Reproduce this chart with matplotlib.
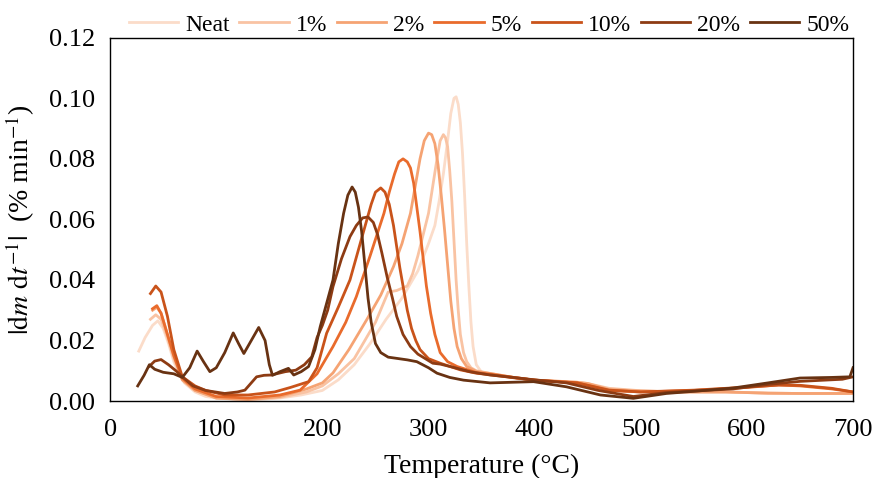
import matplotlib
matplotlib.use("Agg")
import matplotlib.pyplot as plt
from matplotlib.ticker import FormatStrFormatter

plt.rcParams['font.family'] = ['Liberation Serif', 'DejaVu Serif']
plt.rcParams['mathtext.fontset'] = 'stix'

# values (temperature in C, |dm/dt| in %/min)
labels = ['Neat', '1%', '2%', '5%', '10%', '20%', '50%']
colours = ['#fbdcc9', '#f9c3a3', '#f5a373', '#e96b2c', '#c9531a', '#8d3b13', '#683212']

t_neat = [27, 33, 40, 45, 50, 55, 60, 65, 70, 80, 90, 100, 120, 140, 160, 180, 200, 215,
          230, 245, 260, 275, 290, 300, 306, 310, 314, 318, 321, 324, 326, 328, 330, 332,
          334, 336, 338, 340, 342, 345, 350, 360, 380, 400, 420, 440, 450, 470, 500, 540,
          580, 620, 650, 700]
y_neat = [0.0165, 0.021, 0.025, 0.0265, 0.024, 0.019, 0.013, 0.009, 0.006, 0.003, 0.0015,
          0.001, 0.0005, 0.0005, 0.001, 0.002, 0.0035, 0.007, 0.012, 0.019, 0.027, 0.034,
          0.043, 0.052, 0.058, 0.066, 0.075, 0.086, 0.095, 0.100, 0.1005, 0.098, 0.092,
          0.082, 0.068, 0.052, 0.038, 0.026, 0.018, 0.012, 0.0095, 0.0088, 0.0078, 0.0069,
          0.0065, 0.006, 0.0055, 0.004, 0.0033, 0.003, 0.003, 0.0026, 0.0025, 0.0025]

t_1 = [38, 43, 48, 54, 60, 68, 80, 100, 130, 160, 185, 200, 215, 230, 250, 262, 270, 280,
       285, 290, 295, 300, 304, 308, 311, 314, 316, 318, 320, 322, 324, 326, 328, 330, 333,
       336, 340, 345, 360, 380, 400, 420, 440, 450, 470, 500, 540, 580, 620, 650, 700]
y_1 = [0.027, 0.0285, 0.027, 0.021, 0.014, 0.007, 0.0035, 0.001, 0.0005, 0.0012, 0.003,
       0.005, 0.009, 0.014, 0.026, 0.036, 0.0365, 0.038, 0.042, 0.048, 0.055, 0.062, 0.071,
       0.080, 0.086, 0.088, 0.087, 0.084, 0.076, 0.066, 0.053, 0.040, 0.030, 0.022, 0.016,
       0.013, 0.011, 0.010, 0.009, 0.0078, 0.0069, 0.0065, 0.0062, 0.0058, 0.0042, 0.0034,
       0.003, 0.003, 0.0026, 0.0025, 0.0025]

t_2 = [40, 44, 48, 54, 60, 68, 80, 100, 130, 160, 185, 200, 210, 225, 242, 255, 267, 275,
       283, 288, 292, 296, 300, 303, 306, 309, 312, 315, 318, 321, 324, 327, 331, 336, 345,
       360, 380, 400, 420, 440, 450, 470, 500, 540, 580, 620, 650, 700]
y_2 = [0.030, 0.031, 0.029, 0.022, 0.015, 0.007, 0.0035, 0.001, 0.0005, 0.0015, 0.004,
       0.006, 0.0093, 0.017, 0.027, 0.035, 0.0444, 0.052, 0.062, 0.072, 0.080, 0.086, 0.0885,
       0.088, 0.085, 0.078, 0.068, 0.057, 0.045, 0.033, 0.024, 0.018, 0.014, 0.0114, 0.0098,
       0.009, 0.0078, 0.0069, 0.0066, 0.0062, 0.0058, 0.0038, 0.0033, 0.003, 0.003, 0.0026,
       0.0025, 0.0025]

t_5 = [40, 44, 48, 54, 60, 68, 80, 100, 130, 160, 179, 195, 210, 222, 232, 245, 258, 263,
       268, 272, 276, 280, 283, 286, 289, 292, 295, 298, 302, 306, 311, 318, 327, 345, 360,
       380, 400, 440, 470, 500, 550, 600, 630, 650, 680, 700]
y_5 = [0.0305, 0.0315, 0.029, 0.022, 0.015, 0.0075, 0.004, 0.0015, 0.001, 0.002, 0.0036,
       0.009, 0.018, 0.026, 0.0345, 0.048, 0.062, 0.069, 0.075, 0.079, 0.080, 0.079, 0.077,
       0.072, 0.064, 0.056, 0.047, 0.038, 0.029, 0.022, 0.016, 0.013, 0.0114, 0.0094, 0.0088,
       0.0078, 0.0069, 0.006, 0.0035, 0.003, 0.0035, 0.0045, 0.0053, 0.005, 0.004, 0.003]

t_10 = [38, 43, 48, 54, 60, 68, 80, 90, 108, 130, 155, 170, 187, 195, 204, 215, 226, 234,
        242, 246, 250, 255, 259, 263, 267, 270, 273, 277, 280, 284, 288, 292, 300, 311, 330,
        345, 360, 380, 400, 440, 470, 500, 550, 600, 630, 650, 680, 700]
y_10 = [0.0355, 0.038, 0.036, 0.028, 0.017, 0.008, 0.005, 0.0035, 0.002, 0.002, 0.003,
        0.0045, 0.0064, 0.011, 0.0224, 0.031, 0.040, 0.050, 0.060, 0.065, 0.069, 0.0704,
        0.069, 0.065, 0.058, 0.051, 0.044, 0.036, 0.030, 0.024, 0.020, 0.017, 0.014, 0.0125,
        0.0103, 0.0092, 0.0086, 0.0077, 0.0069, 0.006, 0.0036, 0.003, 0.0036, 0.0046, 0.0053,
        0.0052, 0.0042, 0.003]

t_20 = [37, 42, 48, 55, 62, 68, 78, 90, 108, 120, 127, 133, 138, 145, 152, 165, 175, 183,
        190, 195, 200, 205, 210, 218, 226, 232, 238, 243, 248, 252, 256, 261, 266, 270, 276,
        283, 290, 304, 311, 325, 339, 358, 380, 400, 430, 460, 493, 524, 560, 587, 620, 650,
        690, 700]
y_20 = [0.0115, 0.0132, 0.0137, 0.012, 0.010, 0.008, 0.005, 0.0035, 0.0025, 0.003, 0.0036,
        0.006, 0.008, 0.0085, 0.0086, 0.0097, 0.0102, 0.012, 0.0146, 0.021, 0.025, 0.030,
        0.0378, 0.047, 0.0543, 0.058, 0.0605, 0.0608, 0.059, 0.055, 0.049, 0.041, 0.034,
        0.028, 0.022, 0.018, 0.0155, 0.0125, 0.0122, 0.011, 0.0097, 0.0086, 0.0078, 0.007,
        0.006, 0.0035, 0.0015, 0.0028, 0.0035, 0.004, 0.0055, 0.0065, 0.0072, 0.008]

t_50 = [26, 32, 37, 42, 50, 60, 68, 75, 82, 88, 94, 100, 108, 116, 121, 126, 133, 140, 146,
        150, 153, 160, 168, 173, 180, 187, 193, 198, 203, 210, 215, 220, 224, 228, 231, 234,
        237, 240, 243, 246, 250, 255, 262, 270, 280, 289, 300, 308, 320, 333, 358, 399, 430,
        462, 493, 524, 560, 587, 620, 650, 680, 697, 700]
y_50 = [0.005, 0.0085, 0.012, 0.0105, 0.0095, 0.009, 0.0078, 0.011, 0.0165, 0.013, 0.0097,
        0.011, 0.016, 0.0225, 0.019, 0.0157, 0.020, 0.0243, 0.020, 0.012, 0.0085, 0.0097,
        0.0108, 0.0086, 0.0097, 0.0114, 0.017, 0.0246, 0.031, 0.040, 0.052, 0.062, 0.068,
        0.0707, 0.069, 0.064, 0.056, 0.045, 0.034, 0.026, 0.019, 0.016, 0.0145, 0.0141,
        0.0136, 0.013, 0.011, 0.0092, 0.0078, 0.0069, 0.006, 0.0064, 0.0047, 0.002, 0.0009,
        0.0025, 0.0035, 0.0043, 0.006, 0.0076, 0.0078, 0.008, 0.011]

series_t = [t_neat, t_1, t_2, t_5, t_10, t_20, t_50]
series_y = [y_neat, y_1, y_2, y_5, y_10, y_20, y_50]

fig = plt.figure(figsize=(8.74, 4.78), dpi=100)
ax = fig.add_axes([0.126, 0.161, 0.850, 0.760])

for t, y, lab, c in zip(series_t, series_y, labels, colours):
    ax.plot(t, y, color=c, lw=2.0, label=lab)

ax.set_xlim(0, 700)
ax.set_ylim(0, 0.12)
ax.set_xticks(range(0, 701, 100))
ax.set_yticks([0, 0.02, 0.04, 0.06, 0.08, 0.10, 0.12])
ax.yaxis.set_major_formatter(FormatStrFormatter('%.2f'))
ax.tick_params(length=0, labelsize=19)
ax.tick_params(axis='x', pad=13)
ax.tick_params(axis='y', pad=11)
for s in ax.spines.values():
    s.set_linewidth(1.0)
    s.set_color('black')

ax.set_xlabel('Temperature (°C)', fontsize=20, labelpad=9)
ax.set_ylabel(r'$|\mathrm{d}m\ \mathrm{d}t^{-1}|$  (% min$^{-1}$)', fontsize=20, labelpad=8)

ax.legend(ncol=7, loc='lower right', bbox_to_anchor=(1.008, 0.98), frameon=False,
          fontsize=17, handlelength=2.1, handletextpad=0.3, columnspacing=0.4,
          borderaxespad=0.0)

fig.savefig('out.png', dpi=100)
